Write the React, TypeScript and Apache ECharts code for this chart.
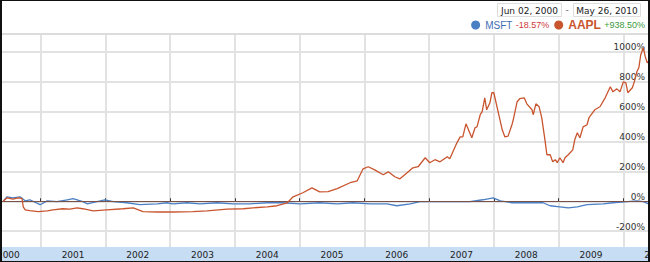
import React, { useEffect, useRef } from "react";
import * as echarts from "echarts";

// ---- data ----
const startLabel = "Jun 02, 2000";
const endLabel = "May 26, 2010";
const seriesNames = ["MSFT", "AAPL"];
const seriesChanges = ["-18.57%", "+938.50%"];
const yearTicks = [2000, 2001, 2002, 2003, 2004, 2005, 2006, 2007, 2008, 2009, 2010, 2011];
const yearLabelPositions = [2000.5, 2001.5, 2002.5, 2003.5, 2004.5, 2005.5, 2006.5, 2007.5, 2008.5, 2009.5, 2010.5];
const percentTicks = [-200, 0, 200, 400, 600, 800, 1000];

const aaplYears = [
  2000.42, 2000.48, 2000.57, 2000.65, 2000.71, 2000.73, 2000.76, 2000.83, 2000.96, 2001.1,
  2001.19, 2001.34, 2001.45, 2001.56, 2001.65, 2001.81, 2002.02, 2002.27, 2002.43, 2002.58,
  2002.8, 2003.04, 2003.35, 2003.57, 2003.88, 2004.13, 2004.28, 2004.5, 2004.65, 2004.81,
  2004.9, 2005.05, 2005.19, 2005.31, 2005.44, 2005.58, 2005.78, 2005.89, 2005.98, 2006.06,
  2006.16, 2006.29, 2006.37, 2006.47, 2006.55, 2006.66, 2006.75, 2006.83, 2006.94, 2007.01,
  2007.09, 2007.17, 2007.28, 2007.32, 2007.43, 2007.48, 2007.52, 2007.57, 2007.66, 2007.71,
  2007.74, 2007.79, 2007.82, 2007.86, 2007.89, 2007.94, 2007.97, 2008.0, 2008.06, 2008.13,
  2008.17, 2008.22, 2008.28, 2008.3, 2008.36, 2008.4, 2008.47, 2008.51, 2008.59, 2008.61,
  2008.65, 2008.7, 2008.74, 2008.79, 2008.82, 2008.87, 2008.91, 2008.95, 2008.98, 2009.02,
  2009.07, 2009.1, 2009.15, 2009.22, 2009.25, 2009.29, 2009.33, 2009.38, 2009.44, 2009.47,
  2009.56, 2009.64, 2009.72, 2009.8, 2009.84, 2009.9, 2009.95, 2010.0, 2010.04, 2010.07,
  2010.14, 2010.17, 2010.21, 2010.24, 2010.27, 2010.31, 2010.34, 2010.37, 2010.4,
];
const aaplValues = [
  0, 23, 15, 23, 20, -37, -57, -62, -70, -64,
  -57, -50, -52, -44, -50, -64, -57, -50, -44, -70,
  -72, -72, -70, -64, -52, -50, -44, -37, -30, -10,
  30, 57, 90, 63, 64, 84, 124, 137, 217, 231,
  210, 177, 197, 164, 150, 190, 224, 231, 291, 258,
  278, 264, 298, 285, 391, 431, 431, 518, 425, 492,
  498, 579, 599, 692, 612, 659, 726, 726, 612, 478,
  431, 436, 512, 545, 666, 686, 692, 652, 612, 579,
  652, 632, 559, 411, 311, 311, 264, 278, 258, 291,
  258, 291, 311, 344, 411, 458, 425, 498, 512, 559,
  612, 632, 692, 766, 732, 752, 732, 799, 792, 726,
  759, 799, 866, 893, 980, 1027, 967, 926, 938,
];

const msftYears = [
  2000.42, 2000.48, 2000.57, 2000.68, 2000.76, 2000.83, 2000.99, 2001.1, 2001.25, 2001.41,
  2001.5, 2001.65, 2001.72, 2001.87, 2001.99, 2002.12, 2002.33, 2002.53, 2002.8, 2002.95,
  2003.04, 2003.26, 2003.46, 2003.72, 2003.97, 2004.23, 2004.5, 2004.74, 2005.01, 2005.31,
  2005.58, 2005.82, 2006.09, 2006.35, 2006.5, 2006.71, 2006.86, 2007.12, 2007.37, 2007.63,
  2007.83, 2007.99, 2008.1, 2008.28, 2008.56, 2008.76, 2008.87, 2009.02, 2009.15, 2009.29,
  2009.44, 2009.69, 2009.84, 2010.06, 2010.21, 2010.31, 2010.4,
];
const msftValues = [
  0, 30, 23, 30, 3, 10, -23, 3, -3, 10,
  17, -3, -17, -3, 10, -3, -10, -23, -17, -10,
  -17, -10, -17, -10, -17, -17, -10, -10, -17, -10,
  -17, -10, -17, -17, -30, -17, -3, -3, -3, -3,
  10, 23, 3, -10, -10, -10, -30, -37, -44, -37,
  -23, -17, -10, -3, 3, -3, -18.57,
];

const MSFT_COLOR = "#4a7fc4";
const AAPL_COLOR = "#c9552f";
const SHIFT = 24; // chart div is shifted left so the year edges are cut like the reference

export default function App() {
  const ref = useRef<HTMLDivElement>(null);

  useEffect(() => {
    if (!ref.current) return;
    const chart = echarts.init(ref.current, undefined, { renderer: "svg" });
    const gridLine = { show: true, lineStyle: { color: "#e2e2e2", width: 2 } };
    const option: any = {
      animation: false,
      backgroundColor: "#ffffff",
      grid: { left: 0, right: 0, top: 34, bottom: 15, containLabel: false },
      xAxis: {
        type: "value",
        min: yearTicks[0],
        max: yearTicks[yearTicks.length - 1],
        axisLine: { show: false },
        axisTick: {
          show: true,
          inside: true,
          length: 3,
          customValues: yearTicks,
          lineStyle: { color: "#333", width: 1 },
        },
        splitLine: gridLine,
        axisLabel: {
          customValues: yearLabelPositions,
          formatter: (v: number) => String(Math.floor(v)),
          margin: 3,
          fontSize: 9,
          color: "#222",
          fontFamily: "DejaVu Sans",
        },
      },
      yAxis: {
        type: "value",
        position: "right",
        min: -306,
        max: 1119,
        axisLine: { show: false },
        axisTick: { show: false, customValues: percentTicks },
        splitLine: gridLine,
        axisLabel: {
          inside: true,
          margin: 43,
          customValues: percentTicks,
          formatter: (v: number) => v + "%",
          fontSize: 9,
          color: "#333",
          fontFamily: "DejaVu Sans",
          verticalAlign: "bottom",
          lineHeight: 9,
        },
      },
      legend: {
        right: 43,
        top: 19,
        padding: 0,
        icon: "circle",
        itemWidth: 9,
        itemHeight: 9,
        itemGap: 5,
        selectedMode: false,
        data: seriesNames,
        formatter: (name: string) => {
          const i = seriesNames.indexOf(name);
          const chg = seriesChanges[i];
          const nameStyle = i === 0 ? "ms" : "ap";
          const chgStyle = chg.startsWith("-") ? "neg" : "pos";
          return `{${nameStyle}|${name}} {${chgStyle}|${chg}}`;
        },
        textStyle: {
          lineHeight: 12,
          rich: {
            ms: { color: "#3f6db3", fontSize: 10, lineHeight: 12, fontFamily: "Liberation Sans Narrow, Liberation Sans" },
            ap: { color: "#c9552f", fontSize: 12, lineHeight: 12, fontFamily: "Liberation Sans Narrow, Liberation Sans", fontWeight: "bold" },
            neg: { color: "#cc3b3b", fontSize: 9, lineHeight: 12, fontFamily: "Liberation Sans" },
            pos: { color: "#3c9a3c", fontSize: 9, lineHeight: 12, fontFamily: "Liberation Sans" },
          },
        },
      },
      graphic: [
        { type: "rect", z: -10, shape: { x: 0, y: 247, width: 712, height: 15 }, style: { fill: "#c7ddf4" } },
        { type: "rect", z: 10, shape: { x: 0, y: 33, width: 712, height: 2 }, style: { fill: "#dcdcdc" } },
        { type: "rect", shape: { x: 521 + 0.5, y: 3.5, width: 64, height: 13 }, style: { fill: "#fff", stroke: "#dddddd", lineWidth: 1 } },
        { type: "rect", shape: { x: 597 + 0.5, y: 3.5, width: 67, height: 13 }, style: { fill: "#fff", stroke: "#dddddd", lineWidth: 1 } },
        { type: "text", x: 553.5, y: 10.5, style: { text: startLabel, fontSize: 9, fontFamily: "DejaVu Sans", fill: "#222", align: "center", verticalAlign: "middle" } },
        { type: "text", x: 591, y: 10, style: { text: "-", fontSize: 9, fontFamily: "DejaVu Sans", fill: "#666", align: "center", verticalAlign: "middle" } },
        { type: "text", x: 631, y: 10.5, style: { text: endLabel, fontSize: 9, fontFamily: "DejaVu Sans", fill: "#222", align: "center", verticalAlign: "middle" } },
      ],
      series: [
        {
          name: seriesNames[0],
          type: "line",
          data: msftYears.map((x, i) => [x, msftValues[i]]),
          showSymbol: false,
          symbol: "none",
          lineStyle: { color: MSFT_COLOR, width: 1.3 },
          itemStyle: { color: MSFT_COLOR },
          z: 4,
          markLine: {
            silent: true,
            symbol: ["none", "none"],
            label: { show: false },
            lineStyle: { color: "#7a5248", width: 1, type: "solid" },
            data: [{ yAxis: 0 }],
          },
        },
        {
          name: seriesNames[1],
          type: "line",
          data: aaplYears.map((x, i) => [x, aaplValues[i]]),
          showSymbol: false,
          symbol: "none",
          lineStyle: { color: AAPL_COLOR, width: 1.3 },
          itemStyle: { color: AAPL_COLOR },
          z: 5,
        },
      ],
    };
    chart.setOption(option);
    return () => chart.dispose();
  }, []);

  return (
    <>
      <div
        ref={ref}
        style={{ position: "fixed", left: -SHIFT, top: 0, width: 712, height: 262 }}
      />
      <div
        style={{
          position: "fixed",
          left: 0,
          top: 0,
          width: 650,
          height: 262,
          boxSizing: "border-box",
          borderLeft: "2px solid #111",
          borderRight: "2px solid #111",
          borderTop: "1px solid #111",
          borderBottom: "1px solid #111",
          pointerEvents: "none",
        }}
      />
    </>
  );
}
